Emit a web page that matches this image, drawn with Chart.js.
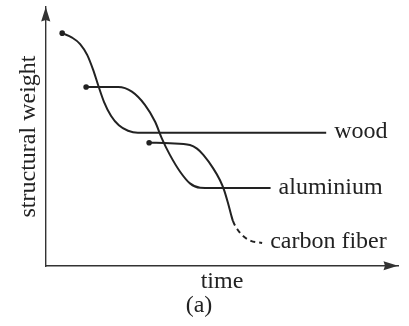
<!DOCTYPE html>
<html>
<head>
<meta charset="utf-8">
<script src="https://cdn.jsdelivr.net/npm/chart.js@4.4.1/dist/chart.umd.min.js"></script>
<style>
  html, body { margin: 0; padding: 0; background: #fff; }
  canvas { display: block; }
</style>
</head>
<body>
<canvas id="weightChart" width="409" height="326"></canvas>
<script>
// ===============================
// Curve data (time vs structural weight, arbitrary units 0-100)
// ===============================
const materials = ["wood", "aluminium", "carbon fiber"];

const woodTime   = [4.6, 7.4, 9.7, 11.7, 13.4, 14.8, 16.5, 18.5, 20.7, 23.3, 26.1, 29.6, 79.6];
const woodWeight = [89.9, 88.2, 85.7, 81.5, 75.7, 69.9, 63.3, 57.9, 54.3, 52.2, 51.4, 51.4, 51.4];

const aluTime   = [11.4, 20.5, 24.4, 28.1, 31.0, 32.9, 35.2, 38.1, 40.9, 43.8, 47.2, 63.8];
const aluWeight = [69.1, 69.1, 67.3, 62.2, 55.7, 49.3, 42.9, 36.4, 31.9, 30.2, 30.1, 30.1];

const carbonTime   = [29.3, 35.2, 40.9, 42.9, 44.7, 47.5, 49.4, 50.6, 51.7, 52.6, 53.1, 54.3, 56.0, 58.2, 61.4];
const carbonWeight = [47.6, 47.4, 46.7, 45.3, 42.9, 37.7, 33.2, 29.3, 24.3, 19.7, 17.4, 14.3, 11.6, 9.7, 8.9];
// carbon fiber is only projected (dashed) from this point on
const carbonDashFrom = 10;

const INK = "#222";
const AXIS_INK = "#333";
const SERIF = "'Liberation Serif', 'Times New Roman', serif";

function toPoints(xs, ys) {
  return xs.map((x, i) => ({ x, y: ys[i] }));
}

// ===============================
// Plugins: curve end labels + axis arrowheads
// ===============================
const curveLabels = {
  id: "curveLabels",
  afterDatasetsDraw(chart) {
    const { ctx } = chart;
    ctx.save();
    ctx.font = `24px ${SERIF}`;
    ctx.fillStyle = INK;
    ctx.textAlign = "left";
    ctx.textBaseline = "alphabetic";
    chart.data.datasets.forEach((ds, i) => {
      const pts = chart.getDatasetMeta(i).data;
      const last = pts[pts.length - 1];
      ctx.fillText(ds.label, last.x + 8, last.y + 5.5);
    });
    ctx.restore();
  }
};

const axisArrows = {
  id: "axisArrows",
  afterDraw(chart) {
    const { ctx, chartArea: a } = chart;
    const head = (x, y, angle) => {
      ctx.save();
      ctx.translate(x, y);
      ctx.rotate(angle);
      ctx.beginPath();
      ctx.moveTo(0, 0);
      ctx.lineTo(-14.5, -4.6);
      ctx.lineTo(-13, 0);
      ctx.lineTo(-14.5, 4.6);
      ctx.closePath();
      ctx.fill();
      ctx.restore();
    };
    ctx.save();
    ctx.fillStyle = AXIS_INK;
    head(a.right, a.bottom - 0.25, 0);
    head(a.left - 0.25, a.top, -Math.PI / 2);
    ctx.restore();
  }
};

// ===============================
// Chart
// ===============================
const curveStyle = {
  borderColor: INK,
  borderWidth: 2,
  cubicInterpolationMode: "monotone",
  fill: false,
  pointRadius: ctx => (ctx.dataIndex === 0 ? 2.8 : 0),
  pointBackgroundColor: INK,
  pointBorderWidth: 0
};

const datasets = [
  { label: materials[0], data: toPoints(woodTime, woodWeight), ...curveStyle },
  { label: materials[1], data: toPoints(aluTime, aluWeight), ...curveStyle },
  {
    label: materials[2],
    data: toPoints(carbonTime, carbonWeight),
    ...curveStyle,
    segment: {
      borderDash: ctx => (ctx.p0DataIndex >= carbonDashFrom ? [5, 4] : undefined)
    }
  }
];

new Chart(document.getElementById("weightChart"), {
  type: "line",
  data: { datasets },
  options: {
    responsive: false,
    animation: false,
    events: [],
    devicePixelRatio: 1,
    layout: { padding: { top: 7, right: 11, bottom: 10.8, left: 0 } },
    plugins: {
      legend: { display: false },
      tooltip: { enabled: false },
      title: {
        display: true,
        position: "bottom",
        text: "(a)",
        color: INK,
        font: { family: SERIF, size: 24, weight: "normal", lineHeight: 0.8 },
        padding: { top: 2, bottom: 0 }
      }
    },
    scales: {
      x: {
        type: "linear",
        min: 0,
        max: 100,
        grid: { display: false, drawTicks: false },
        border: { display: true, color: AXIS_INK, width: 1.4 },
        ticks: { display: false },
        title: {
          display: true,
          text: "time",
          color: INK,
          font: { family: SERIF, size: 24, lineHeight: 1 },
          padding: { top: 4, bottom: 0 }
        }
      },
      y: {
        type: "linear",
        min: 0,
        max: 100,
        grid: { display: false, drawTicks: false },
        border: { display: true, color: AXIS_INK, width: 1.4 },
        ticks: { display: false },
        title: {
          display: true,
          text: "structural weight",
          color: INK,
          font: { family: SERIF, size: 24, lineHeight: 1 },
          padding: { top: 17, bottom: 5 }
        }
      }
    }
  },
  plugins: [curveLabels, axisArrows]
});
</script>
</body>
</html>
